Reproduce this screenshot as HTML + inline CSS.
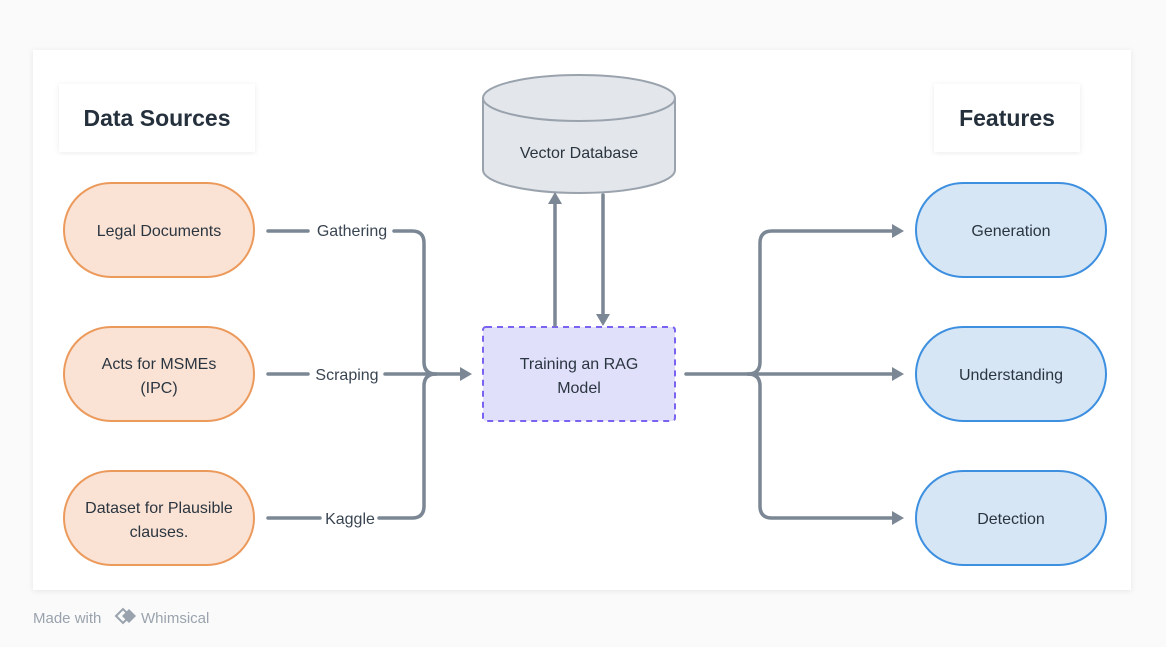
<!DOCTYPE html>
<html><head><style>
body{margin:0;width:1166px;height:642px;background:#fafafa;font-family:"Liberation Sans",sans-serif;overflow:hidden}
</style></head><body>
<svg width="1166" height="642" xmlns="http://www.w3.org/2000/svg" font-family="Liberation Sans, sans-serif">
<defs><filter id="sh" x="-5%" y="-5%" width="110%" height="110%"><feDropShadow dx="0" dy="1" stdDeviation="3" flood-color="#000" flood-opacity="0.08"/></filter></defs>
<rect x="33" y="50" width="1098" height="540" fill="#fff" filter="url(#sh)"/>
<rect x="59" y="84" width="196" height="68" fill="#fff" filter="url(#sh)"/>
<text x="157" y="126" text-anchor="middle" font-size="23" font-weight="bold" fill="#25303d">Data Sources</text>
<rect x="934" y="84" width="146" height="68" fill="#fff" filter="url(#sh)"/>
<text x="1007" y="126" text-anchor="middle" font-size="23" font-weight="bold" fill="#25303d">Features</text>
<g fill="#fae3d5" stroke="#ec9a5c" stroke-width="2">
<rect x="64" y="183" width="190" height="94" rx="47"/>
<rect x="64" y="327" width="190" height="94" rx="47"/>
<rect x="64" y="471" width="190" height="94" rx="47"/>
</g>
<g fill="#d6e6f5" stroke="#3d8fe0" stroke-width="2">
<rect x="916" y="183" width="190" height="94" rx="47"/>
<rect x="916" y="327" width="190" height="94" rx="47"/>
<rect x="916" y="471" width="190" height="94" rx="47"/>
</g>
<rect x="483" y="327" width="192" height="94" rx="3" fill="#e0e0fb" stroke="#7a63f0" stroke-width="2" stroke-dasharray="6,5"/>
<path d="M483 98 L483 170 A96 23 0 0 0 675 170 L675 98" fill="#e3e7eb" stroke="#9aa3ad" stroke-width="2"/>
<ellipse cx="579" cy="98" rx="96" ry="23" fill="#e3e7eb" stroke="#9aa3ad" stroke-width="2"/>
<g font-size="16" fill="#2b3540" text-anchor="middle">
<text x="159" y="236">Legal Documents</text>
<text x="159" y="369">Acts for MSMEs</text>
<text x="159" y="393">(IPC)</text>
<text x="159" y="513">Dataset for Plausible</text>
<text x="159" y="537">clauses.</text>
<text x="1011" y="236">Generation</text>
<text x="1011" y="380">Understanding</text>
<text x="1011" y="524">Detection</text>
<text x="579" y="369">Training an RAG</text>
<text x="579" y="393">Model</text>
<text x="579" y="158">Vector Database</text>
</g>
<g stroke="#7b8794" stroke-width="3.5" fill="none" stroke-linecap="round">
<path d="M268 231 H308"/><path d="M394 231 H412 Q424 231 424 243 V362 Q424 374 436 374"/>
<path d="M268 374 H308"/><path d="M385 374 H462"/>
<path d="M268 518 H320"/><path d="M379 518 H412 Q424 518 424 506 V386 Q424 374 436 374"/>
<path d="M555 325 V200"/><path d="M603 195 V318"/>
<path d="M686 374 H894"/>
<path d="M748 374 Q760 374 760 362 V243 Q760 231 772 231 H894"/>
<path d="M748 374 Q760 374 760 386 V506 Q760 518 772 518 H894"/>
</g>
<g fill="#7b8794">
<path d="M472 374 L460 367 V381 Z"/>
<path d="M555 192 L548 204 H562 Z"/>
<path d="M603 326 L596 314 H610 Z"/>
<path d="M904 374 L892 367 V381 Z"/>
<path d="M904 231 L892 224 V238 Z"/>
<path d="M904 518 L892 511 V525 Z"/>
</g>
<g font-size="16" fill="#3a4552" text-anchor="middle">
<text x="352" y="236">Gathering</text>
<text x="347" y="380">Scraping</text>
<text x="350" y="524">Kaggle</text>
</g>
<text x="33" y="623" font-size="15" fill="#9aa3ad">Made with</text>
<path d="M116 616 l7-7 l4 4 l-3 3 l3 3 l-4 4z" fill="none" stroke="#9aa3ad" stroke-width="2"/>
<path d="M129 609 l7 7 l-7 7 l-7-7z" fill="#9aa3ad"/>
<text x="141" y="623" font-size="15" fill="#9aa3ad">Whimsical</text>
</svg>
</body></html>
